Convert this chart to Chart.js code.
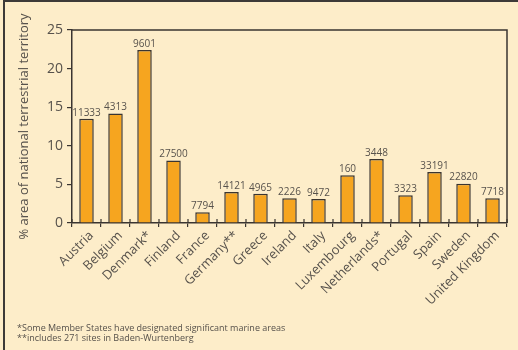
<!DOCTYPE html>
<html>
<head>
<meta charset="utf-8">
<script src="https://cdn.jsdelivr.net/npm/chart.js@4"></script>
<style>
  body { margin: 0; background: #fdedc9; }
  #wrap {
    position: relative; width: 518px; height: 350px; overflow: hidden;
    background: #fdedc9;
  }
  #frame {
    position: absolute; left: 3px; top: 0; width: 520px; height: 352px;
    border-top: 2px solid #3d3a38; border-left: 2px solid #3d3a38;
    box-sizing: border-box;
  }
  canvas { position: absolute; left: 0; top: 0; }
  .note {
    position: absolute; left: 17px; font: 9px "Open Sans", sans-serif;
    color: #55504a; white-space: nowrap;
  }
</style>
</head>
<body>
<div id="wrap">
  <div id="frame"></div>
  <canvas id="sites" width="518" height="350"></canvas>
  <div class="note" style="top:321px">*Some Member States have designated significant marine areas</div>
  <div class="note" style="top:331px">**includes 271 sites in Baden-Wurtenberg</div>
</div>
<script>
const countries = ['Austria', 'Belgium', 'Denmark*', 'Finland', 'France', 'Germany**', 'Greece',
    'Ireland', 'Italy', 'Luxembourg', 'Netherlands*', 'Portugal', 'Spain', 'Sweden', 'United Kingdom'];
// % of national terrestrial territory
const shares = [13.5, 14.2, 22.4, 8.1, 1.4, 4.0, 3.8, 3.2, 3.1, 6.2, 8.3, 3.6, 6.6, 5.1, 3.2];
// number printed above each bar
const barLabels = ['11333', '4313', '9601', '27500', '7794', '14121', '4965', '2226', '9472',
    '160', '3448', '3323', '33191', '22820', '7718'];
const yTicks = [0, 5, 10, 15, 20, 25];

const ink = '#3a3531';
const grey = '#57524c';

// value labels over the bars, box around the plot, ticks crossing the x axis
const extras = {
    id: 'extras',
    afterDatasetsDraw(chart) {
        const { ctx, chartArea: a } = chart;
        const meta = chart.getDatasetMeta(0);
        ctx.save();
        ctx.font = '10px "Open Sans", sans-serif';
        ctx.fillStyle = grey;
        ctx.textAlign = 'center';
        ctx.textBaseline = 'bottom';
        meta.data.forEach((bar, i) => {
            ctx.fillText(barLabels[i], bar.x, bar.y - 1);
        });

        ctx.strokeStyle = ink;
        ctx.lineWidth = 1.5;
        ctx.beginPath();
        ctx.moveTo(a.left, a.top);
        ctx.lineTo(a.right, a.top);
        ctx.lineTo(a.right, a.bottom);
        ctx.stroke();

        const xs = chart.scales.x;
        ctx.lineWidth = 1.2;
        ctx.beginPath();
        for (let i = 0; i <= countries.length; i++) {
            const px = xs.left + i * (xs.width / countries.length);
            ctx.moveTo(px, a.bottom - 4);
            ctx.lineTo(px, a.bottom);
        }
        ctx.stroke();
        ctx.restore();
    }
};

new Chart(document.getElementById('sites'), {
    type: 'bar',
    data: {
        labels: countries,
        datasets: [{
            data: shares,
            backgroundColor: '#f6a51f',
            borderColor: ink,
            borderWidth: { top: 1.5, left: 1.5, right: 1.5, bottom: 0 },
            barPercentage: 0.5,
            categoryPercentage: 1
        }]
    },
    options: {
        responsive: false,
        animation: false,
        layout: { padding: { top: 30, right: 11, left: 4, bottom: 0 } },
        plugins: { legend: { display: false }, tooltip: { enabled: false } },
        scales: {
            x: {
                afterFit(s) { s.height = 127; },
                grid: { offset: true, drawOnChartArea: false, color: ink, lineWidth: 1.2, tickLength: 4 },
                border: { color: ink, width: 1.5 },
                ticks: {
                    autoSkip: false, minRotation: 45, maxRotation: 45, padding: 1, labelOffset: 5,
                    color: grey, font: { family: 'Open Sans', size: 13 }
                }
            },
            y: {
                min: 0, max: 25,
                afterFit(s) { s.width = 68; },
                afterBuildTicks(s) { s.ticks = yTicks.map(v => ({ value: v })); },
                grid: { drawOnChartArea: false, color: ink, lineWidth: 1.2, tickLength: 5 },
                border: { color: ink, width: 1.5 },
                ticks: { color: grey, padding: 4, font: { family: 'Open Sans', size: 14 } },
                title: {
                    display: true,
                    text: '% area of national terrestrial territory',
                    color: grey,
                    padding: { top: 12 },
                    font: { family: 'Open Sans', size: 13 }
                }
            }
        }
    },
    plugins: [extras]
});
</script>
</body>
</html>
